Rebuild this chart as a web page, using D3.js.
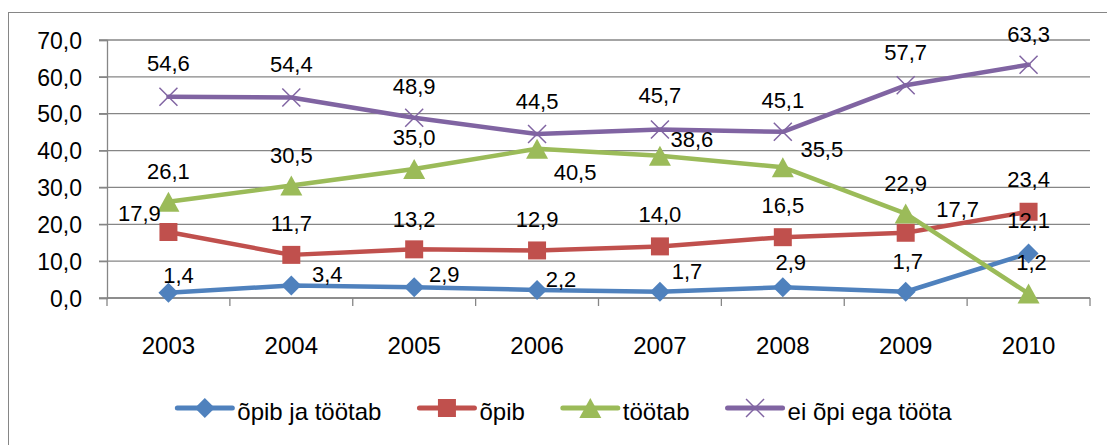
<!DOCTYPE html>
<html>
<head>
<meta charset="utf-8">
<script src="https://cdn.jsdelivr.net/npm/d3@7"></script>
<style>
  body { margin: 0; background: #fff; }
  svg text { font-family: "Liberation Sans", Arial, sans-serif; fill: #000; }
</style>
</head>
<body>
<svg id="chart" width="1107" height="445"></svg>
<script>
// data
var years = ["2003", "2004", "2005", "2006", "2007", "2008", "2009", "2010"];
var seriesNames = ["õpib ja töötab", "õpib", "töötab", "ei õpi ega tööta"];
var opibJaTootab = [1.4, 3.4, 2.9, 2.2, 1.7, 2.9, 1.7, 12.1];
var opib = [17.9, 11.7, 13.2, 12.9, 14.0, 16.5, 17.7, 23.4];
var tootab = [26.1, 30.5, 35.0, 40.5, 38.6, 35.5, 22.9, 1.2];
var eiOpiEgaToota = [54.6, 54.4, 48.9, 44.5, 45.7, 45.1, 57.7, 63.3];
var yTicks = [0, 10, 20, 30, 40, 50, 60, 70];

// label nudges (px) - excel had some labels moved off the default spot
var labelShift = [
  [[10,-18],[36,-11],[30,-13],[24,-11],[27,-21],[8,-25],[2,-31],[0,-33]],
  [[-29,-19],[0,-32],[0,-30],[0,-31],[0,-32],[0,-32],[52,-24],[0,-33]],
  [[0,-31],[0,-31],[0,-32],[38,23],[32,-17],[39,-18],[0,-31],[3,-31]],
  [[0,-34],[0,-33],[0,-32],[0,-33],[0,-34],[0,-32],[0,-33],[0,-31]]
];

var colors = ["#4F81BD", "#C0504D", "#9BBB59", "#8064A2"];
var markers = ["diamond", "square", "triangle", "x"];
var values = [opibJaTootab, opib, tootab, eiOpiEgaToota];

var plot = {left: 107, right: 1090, top: 40, bottom: 298};

var locale = d3.formatLocale({decimal: ",", thousands: " ", grouping: [3], currency: ["", ""]});
var fmt = locale.format(".1f");

var svg = d3.select("#chart");

// chart area border (runs off the picture on right/bottom)
svg.append("rect")
  .attr("x", 8.5).attr("y", 12.5)
  .attr("width", 1200).attr("height", 500)
  .attr("fill", "none")
  .attr("stroke", "#868686")
  .attr("stroke-width", 1);

var x = d3.scaleBand()
  .domain(years)
  .range([plot.left, plot.right]);

var y = d3.scaleLinear()
  .domain([0, 70])
  .range([plot.bottom, plot.top]);

function cx(i) { return x(years[i]) + x.bandwidth() / 2; }

// gridlines
svg.append("g")
  .selectAll("line")
  .data(yTicks)
  .enter().append("line")
    .attr("x1", plot.left - 8)
    .attr("x2", plot.right)
    .attr("y1", function(d) { return y(d); })
    .attr("y2", function(d) { return y(d); })
    .attr("stroke", "#868686")
    .attr("stroke-width", 1.3);

// y axis
var yAxis = svg.append("g")
  .attr("transform", "translate(" + plot.left + ",0)")
  .call(d3.axisLeft(y).tickValues(yTicks).tickSize(8).tickPadding(17).tickFormat(fmt));
yAxis.select(".domain").attr("stroke", "#868686").attr("stroke-width", 1.3);
yAxis.selectAll(".tick line").attr("stroke", "#868686").attr("stroke-width", 1.3);
yAxis.selectAll("text")
  .style("font-size", "23px")
  .attr("fill", "#000")
  .attr("dy", "0.36em");

// x axis
svg.append("line")
  .attr("x1", plot.left).attr("x2", plot.right)
  .attr("y1", plot.bottom).attr("y2", plot.bottom)
  .attr("stroke", "#868686").attr("stroke-width", 1.3);

var bounds = years.map(function(d) { return x(d); }).concat([plot.right]);
svg.append("g")
  .selectAll("line")
  .data(bounds)
  .enter().append("line")
    .attr("x1", function(d) { return d; })
    .attr("x2", function(d) { return d; })
    .attr("y1", plot.bottom)
    .attr("y2", plot.bottom + 8)
    .attr("stroke", "#868686")
    .attr("stroke-width", 1.3);

svg.append("g")
  .selectAll("text")
  .data(years)
  .enter().append("text")
    .attr("x", function(d, i) { return cx(i); })
    .attr("y", 354)
    .attr("text-anchor", "middle")
    .style("font-size", "24px")
    .text(function(d) { return d; });

function markerPath(type) {
  if (type == "diamond") return "M0,-10L10,0L0,10L-10,0Z";
  if (type == "square") return "M-9,-9H9V9H-9Z";
  if (type == "triangle") return "M0,-10L11,10H-11Z";
  return "M-9,-9L9,9M-9,9L9,-9";
}

function drawMarker(g, type, color) {
  var p = g.append("path").attr("d", markerPath(type));
  if (type == "x") {
    p.attr("fill", "none").attr("stroke", color).attr("stroke-width", 1.5);
  } else {
    p.attr("fill", color);
  }
  return p;
}

var line = d3.line()
  .x(function(d, i) { return cx(i); })
  .y(function(d) { return y(d); });

values.forEach(function(vals, s) {
  var g = svg.append("g").attr("class", "series");

  g.append("path")
    .datum(vals)
    .attr("d", line)
    .attr("fill", "none")
    .attr("stroke", colors[s])
    .attr("stroke-width", 4.5)
    .attr("stroke-linejoin", "round")
    .attr("stroke-linecap", "round");

  vals.forEach(function(v, i) {
    var m = g.append("g").attr("transform", "translate(" + cx(i) + "," + y(v) + ")");
    drawMarker(m, markers[s], colors[s]);
  });
});

// data labels on top of everything
values.forEach(function(vals, s) {
  svg.append("g")
    .selectAll("text")
    .data(vals)
    .enter().append("text")
      .attr("x", function(d, i) { return cx(i) + labelShift[s][i][0]; })
      .attr("y", function(d, i) { return y(d) + labelShift[s][i][1]; })
      .attr("dy", "0.36em")
      .attr("text-anchor", "middle")
      .style("font-size", "22px")
      .text(function(d) { return fmt(d); });
});

// legend
var legend = svg.append("g").attr("transform", "translate(0,408)");
var items = legend.selectAll("g")
  .data(seriesNames)
  .enter().append("g");

items.append("line")
  .attr("x1", 0).attr("x2", 55)
  .attr("y1", 0).attr("y2", 0)
  .attr("stroke", function(d, i) { return colors[i]; })
  .attr("stroke-width", 5)
  .attr("stroke-linecap", "round");

items.each(function(d, i) {
  var m = d3.select(this).append("g").attr("transform", "translate(27.5,0)");
  drawMarker(m, markers[i], colors[i]);
});

items.append("text")
  .attr("x", 60)
  .attr("y", 12)
  .style("font-size", "24px")
  .text(function(d) { return d; });

var widths = [];
items.each(function() { widths.push(60 + d3.select(this).select("text").node().getComputedTextLength()); });
var gap = 38;
var total = d3.sum(widths) + gap * (widths.length - 1);
var start = 564.5 - total / 2;
items.attr("transform", function(d, i) {
  var off = start + d3.sum(widths.slice(0, i)) + gap * i;
  return "translate(" + off + ",0)";
});
</script>
</body>
</html>
